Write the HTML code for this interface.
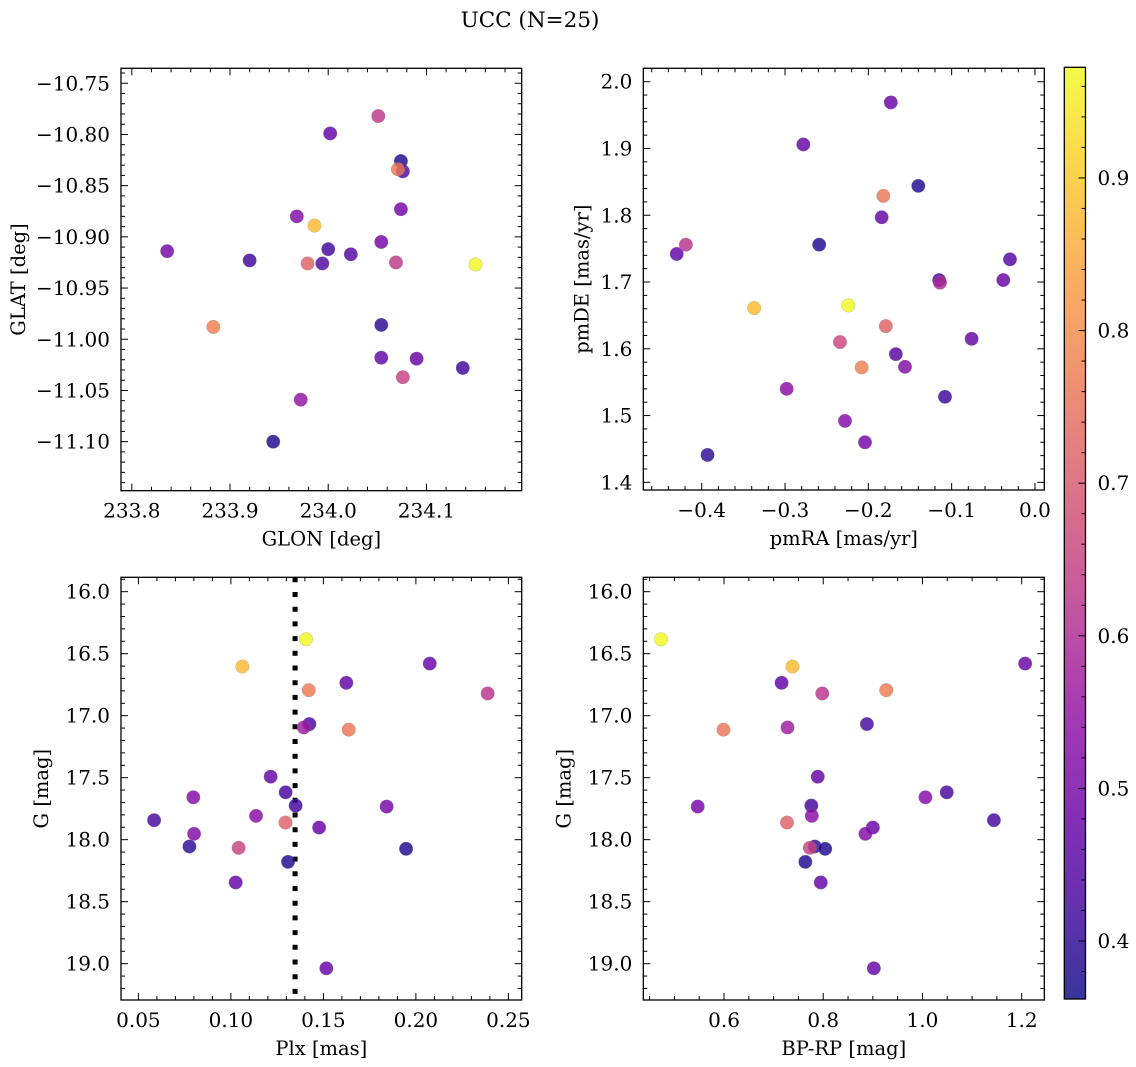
<!DOCTYPE html>
<html><head><meta charset="utf-8">
<style>
html,body{margin:0;padding:0;background:#fff;}
svg{display:block;font-family:"DejaVu Serif","Liberation Serif",serif;}
</style></head>
<body>
<svg id="fig" width="1136" height="1067" viewBox="0 0 1136 1067" xmlns="http://www.w3.org/2000/svg">
<text x="530" y="27" font-size="21.5" text-anchor="middle">UCC (N=25)</text>
</svg>
<script>
// ---- data ----
const glon = [233.836,233.920,233.883,233.944,233.968,233.972,233.986,233.979,233.994,234.000,234.002,234.023,234.051,234.054,234.054,234.054,234.069,234.074,234.076,234.071,234.074,234.076,234.090,234.137,234.150];
const glat = [-10.914,-10.923,-10.988,-11.100,-10.880,-11.059,-10.889,-10.926,-10.926,-10.912,-10.799,-10.917,-10.782,-10.905,-10.986,-11.018,-10.925,-10.826,-10.836,-10.834,-10.873,-11.037,-11.019,-11.028,-10.927];
const probPos = [0.50,0.42,0.78,0.38,0.52,0.55,0.88,0.72,0.45,0.42,0.47,0.45,0.63,0.50,0.40,0.47,0.63,0.38,0.45,0.76,0.50,0.65,0.48,0.42,0.97];

const pmra = [-0.430,-0.419,-0.393,-0.337,-0.298,-0.278,-0.259,-0.234,-0.228,-0.224,-0.208,-0.204,-0.184,-0.182,-0.179,-0.173,-0.167,-0.156,-0.140,-0.115,-0.114,-0.108,-0.076,-0.038,-0.030];
const pmde = [1.742,1.756,1.441,1.661,1.540,1.906,1.756,1.610,1.492,1.665,1.572,1.460,1.797,1.829,1.634,1.969,1.592,1.573,1.844,1.703,1.699,1.528,1.615,1.703,1.734];
const probPm = [0.47,0.62,0.40,0.88,0.53,0.47,0.38,0.66,0.52,0.97,0.78,0.50,0.47,0.76,0.72,0.48,0.45,0.52,0.38,0.43,0.60,0.42,0.47,0.48,0.45];

const plx  = [0.1062,0.1406,0.2075,0.1624,0.1421,0.2388,0.1424,0.1394,0.1637,0.1215,0.1296,0.0797,0.1350,0.1842,0.0585,0.1136,0.1295,0.1477,0.0801,0.0776,0.1042,0.1947,0.1309,0.1026,0.1516];
const gmag = [16.604,16.384,16.580,16.735,16.794,16.821,17.068,17.095,17.113,17.492,17.618,17.658,17.725,17.733,17.843,17.808,17.862,17.902,17.953,18.055,18.066,18.074,18.179,18.345,19.037];
const bprp = [0.738,0.473,1.207,0.716,0.927,0.798,0.888,0.728,0.599,0.789,1.049,1.006,0.776,0.547,1.144,0.777,0.727,0.900,0.885,0.783,0.773,0.804,0.764,0.795,0.902];
const probPh = [0.88,0.97,0.48,0.47,0.77,0.62,0.43,0.57,0.76,0.47,0.43,0.52,0.42,0.50,0.43,0.53,0.72,0.48,0.52,0.40,0.65,0.38,0.38,0.47,0.48];
const plxMedian = 0.1347;

const cbTicks = [0.4,0.5,0.6,0.7,0.8,0.9];
const vmin = 0.362, vmax = 0.9725;

// ---- helpers ----
const NS = "http://www.w3.org/2000/svg";
const svg = document.getElementById('fig');
const FS = 20;
function mk(tag, attrs, parent){
  const e = document.createElementNS(NS, tag);
  for (const k in attrs) e.setAttribute(k, attrs[k]);
  (parent||svg).appendChild(e);
  return e;
}
const plasma = [[13,8,135],[65,4,157],[106,0,168],[143,13,164],[177,42,144],[204,71,120],[225,100,98],[242,132,75],[252,166,54],[252,206,37],[240,249,33]];
function cmap(v){
  let t = (v - vmin)/(vmax - vmin); t = Math.max(0, Math.min(1, t));
  const f = t*10, i = Math.min(9, Math.floor(f)), r = f - i;
  const a = plasma[i], b = plasma[i+1];
  return 'rgb(' + [0,1,2].map(k => Math.round(a[k] + (b[k]-a[k])*r)).join(',') + ')';
}
function fmt(v, d){ const s = Math.abs(v).toFixed(d); return (v < -1e-9 ? '\u2212' : '') + s; }

function panel(cfg){
  const g = mk('g', {});
  
  
  const {L,R,T,B,x0,x1,y0,y1} = cfg;
  const sx = v => L + (v - x0)/(x1 - x0)*(R - L);
  const sy = v => T + (v - y0)/(y1 - y0)*(B - T);
  const tg = mk('g', {stroke:'#000','stroke-width':1}, g);
  
  
  const lo = Math.min(x0,x1), hi = Math.max(x0,x1);
  for (let k = Math.ceil(lo/cfg.xmin - 1e-6); k*cfg.xmin <= hi + 1e-9; k++){
    const v = k*cfg.xmin, px = sx(v);
    const isMaj = Math.abs(v/cfg.xmaj - Math.round(v/cfg.xmaj)) < 1e-6;
    const len = isMaj ? 7 : 4;
    mk('line', {x1:px, x2:px, y1:B, y2:B-len}, tg);
    mk('line', {x1:px, x2:px, y1:T, y2:T+len}, tg);
    if (isMaj){
      const t = mk('text', {x:px, y:B+27, 'font-size':FS, 'text-anchor':'middle', stroke:'none'}, g);
      
      
      t.textContent = fmt(v, cfg.xd);
    }
  }
  const ylo = Math.min(y0,y1), yhi = Math.max(y0,y1);
  for (let k = Math.ceil(ylo/cfg.ymin - 1e-6); k*cfg.ymin <= yhi + 1e-9; k++){
    const v = k*cfg.ymin, py = sy(v);
    const isMaj = Math.abs(v/cfg.ymaj - Math.round(v/cfg.ymaj)) < 1e-6;
    const len = isMaj ? 7 : 4;
    mk('line', {x1:L, x2:L+len, y1:py, y2:py}, tg);
    mk('line', {x1:R, x2:R-len, y1:py, y2:py}, tg);
    if (isMaj){
      const t = mk('text', {x:L-11, y:py+7, 'font-size':FS, 'text-anchor':'end', stroke:'none'}, g);
      
      
      t.textContent = fmt(v, cfg.yd);
    }
  }
  if (cfg.vline !== undefined){
    const vl = mk('line', {x1:sx(cfg.vline), x2:sx(cfg.vline), y1:T, y2:B, stroke:'#000','stroke-width':5,'stroke-dasharray':'5 9.7'}, g);
    
    
  }
  for (let i = 0; i < cfg.xs.length; i++){
    const c = mk('circle', {cx:sx(cfg.xs[i]), cy:sy(cfg.ys[i]), r:6.8, fill:cmap(cfg.cs[i]), 'fill-opacity':0.82, stroke:'#888', 'stroke-width':0.4, 'stroke-opacity':0.6}, g);
    
    
  }
  const fr = mk('rect', {x:L, y:T, width:R-L, height:B-T, fill:'none', stroke:'#000','stroke-width':1.3}, g);
  
  
  const xl = mk('text', {x:(L+R)/2, y:B+55, 'font-size':FS-0.5, 'text-anchor':'middle'}, g);
  
  
  xl.textContent = cfg.xlabel;
  const yx = L - cfg.ylabOff, yc = (T+B)/2;
  const yl = mk('text', {x:yx, y:yc, 'font-size':FS-0.5, 'text-anchor':'middle', transform:'rotate(-90 '+yx+' '+yc+')'}, g);
  
  
  yl.textContent = cfg.ylabel;
}

panel({name:'position-panel', L:121, R:521.7, T:68.3, B:490.7, x0:233.789, x1:234.197, y0:-10.7354, y1:-11.1479,
  xmaj:0.1, xmin:0.02, ymaj:0.05, ymin:0.01, xd:1, yd:2, xs:glon, ys:glat, cs:probPos,
  xlabel:'GLON [deg]', ylabel:'GLAT [deg]', ylabOff:96});
panel({name:'proper-motion-panel', L:643.3, R:1044.3, T:68.3, B:490, x0:-0.4701, x1:0.0112, y0:2.0201, y1:1.3885,
  xmaj:0.1, xmin:0.02, ymaj:0.1, ymin:0.02, xd:1, yd:1, xs:pmra, ys:pmde, cs:probPm,
  xlabel:'pmRA [mas/yr]', ylabel:'pmDE [mas/yr]', ylabOff:55});
panel({name:'parallax-panel', L:121, R:521.7, T:577.3, B:1000, x0:0.0406, x1:0.2572, y0:15.884, y1:19.293,
  xmaj:0.05, xmin:0.01, ymaj:0.5, ymin:0.1, xd:2, yd:1, xs:plx, ys:gmag, cs:probPh, vline:plxMedian,
  xlabel:'Plx [mas]', ylabel:'G [mag]', ylabOff:73});
panel({name:'cmd-panel', L:643.3, R:1044.3, T:577.3, B:1000, x0:0.4373, x1:1.2456, y0:15.884, y1:19.293,
  xmaj:0.2, xmin:0.05, ymaj:0.5, ymin:0.1, xd:1, yd:1, xs:bprp, ys:gmag, cs:probPh,
  xlabel:'BP-RP [mag]', ylabel:'G [mag]', ylabOff:73});

// ---- colorbar ----
(function(){
  const L = 1064.3, R = 1085.5, T = 67.3, B = 999;
  const g = mk('g', {});
  
  
  const defs = mk('defs', {}, g);
  const lg = mk('linearGradient', {id:'cbg', x1:0, y1:1, x2:0, y2:0}, defs);
  for (let i = 0; i <= 20; i++){
    const v = vmin + (vmax - vmin)*i/20;
    mk('stop', {offset:(i/20), 'stop-color':cmap(v), 'stop-opacity':0.82}, lg);
  }
  const r = mk('rect', {x:L, y:T, width:R-L, height:B-T, fill:'url(#cbg)', stroke:'#000', 'stroke-width':1.3}, g);
  
  
  const sy = v => B - (v - vmin)/(vmax - vmin)*(B - T);
  for (let k = Math.ceil(vmin/0.02); k*0.02 <= vmax; k++){
    const v = k*0.02, py = sy(v);
    const isMaj = Math.abs(v*10 - Math.round(v*10)) < 1e-6;
    mk('line', {x1:R, x2:R-(isMaj?7:4), y1:py, y2:py, stroke:'#000', 'stroke-width':1}, g);
  }
  cbTicks.forEach(v => {
    const t = mk('text', {x:R+12, y:sy(v)+7, 'font-size':FS}, g);
    
    
    t.textContent = v.toFixed(1);
  });
})();
</script>
</body></html>
